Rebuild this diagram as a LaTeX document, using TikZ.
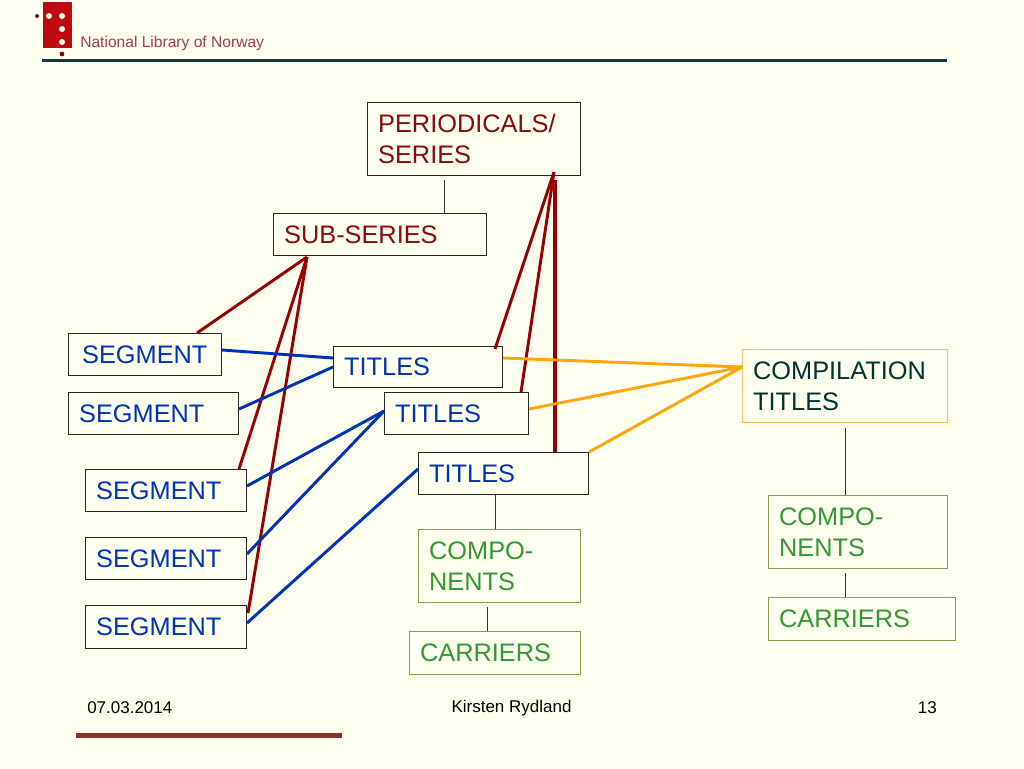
\documentclass[tikz,border=0pt]{standalone}
\usepackage{fontspec}
\setmainfont{Liberation Sans}
\usetikzlibrary{calc}
\definecolor{bgc}{HTML}{FFFFF0}
\definecolor{dred}{HTML}{990000}
\definecolor{tred}{HTML}{8B0A0A}
\definecolor{bl}{HTML}{0033BB}
\definecolor{gr}{HTML}{339933}
\definecolor{gbord}{HTML}{8C9A50}
\definecolor{obord}{HTML}{F5BE66}
\definecolor{orng}{HTML}{FFA511}
\definecolor{teal0}{HTML}{003333}
\definecolor{rule0}{HTML}{0F3B45}
\definecolor{foot}{HTML}{992D22}
\definecolor{logo}{HTML}{BE0A0F}
\definecolor{logot}{HTML}{A04048}
\tikzset{
  x=0.75pt,y=-0.75pt,
  boxbase/.style={draw=#1,line width=0.75pt,rectangle,anchor=north west,inner ysep=0pt,inner xsep=8pt,align=left,
    font=\fontsize{19}{23.25}\selectfont},
  boxbase/.default=black!85,
  rd/.style={draw=dred,line width=2.2pt},
  rdv/.style={draw=dred,line width=2.8pt},
  bu/.style={draw=bl,line width=2.2pt},
  og/.style={draw=orng,line width=2.2pt},
  thin0/.style={draw=black!80,line width=0.7pt},
  foottext/.style={font=\fontsize{12.75}{15}\selectfont,text=black,inner sep=0pt},
}
\newcommand{\pbox}[7]{%
  \pgfmathsetmacro{\tw}{(#4-#2-1)*0.75-16}%
  \pgfmathsetmacro{\mh}{(#5-#3)*0.75}%
  \node[boxbase=#6,text width=\tw pt,minimum height=\mh pt] (#1) at (#2,#3) {#7};}
\begin{document}
\begin{tikzpicture}
\useasboundingbox[fill=bgc] (0,0) rectangle (1024,768);
% header
\fill[logo] (43,2) rectangle (72,48);
\foreach \p/\q in {49/16,62/16,62/29,62/42}{\fill[bgc] (\p,\q) circle (3);}
\fill[tred] (37,16) circle (2);
\fill[tred] (62,54) circle (2.4);
\node[anchor=west,inner sep=0pt,text=logot,font=\fontsize{11.7}{14}\selectfont] (logotext) at (80,43) {National Library of Norway};
\fill[rule0] (42,59) rectangle (947,62);
% boxes
\pbox{per}{367}{102}{581}{175}{black!85}{\textcolor{tred}{PERIODICALS/\\SERIES}}
\pbox{sub}{273}{213}{487}{255}{black!85}{\textcolor{tred}{SUB-SERIES}}
\pbox{sega}{68}{333}{222}{375}{black!85}{\textcolor{bl}{\hspace*{2.25pt}SEGMENT}}
\pbox{segb}{68}{392}{239}{434}{black!85}{\textcolor{bl}{SEGMENT}}
\pbox{segc}{85}{469}{247}{511}{black!85}{\textcolor{bl}{SEGMENT}}
\pbox{segd}{85}{537}{247}{579}{black!85}{\textcolor{bl}{SEGMENT}}
\pbox{sege}{85}{605}{247}{648}{black!85}{\textcolor{bl}{SEGMENT}}
\pbox{tita}{333}{346}{503}{387}{black!85}{\textcolor{bl}{TITLES}}
\pbox{titb}{384}{392}{529}{434}{black!85}{\textcolor{bl}{TITLES}}
\pbox{titc}{418}{452}{589}{494}{black!85}{\textcolor{bl}{TITLES}}
\pbox{coma}{418}{529}{581}{602}{gbord}{\textcolor{gr}{COMPO-\\NENTS}}
\pbox{cara}{409}{631}{581}{674}{gbord}{\textcolor{gr}{CARRIERS}}
\pbox{cpl}{742}{349}{948}{422}{obord}{\textcolor{teal0}{COMPILATION\\TITLES}}
\pbox{comb}{768}{495}{948}{568}{gbord}{\textcolor{gr}{COMPO-\\NENTS}}
\pbox{carb}{768}{597}{956}{640}{gbord}{\textcolor{gr}{CARRIERS}}
% thin connectors
\path[thin0] ($(per.south west)+(77,4)$) -- ($(sub.north west)+(171,0)$);
\path[thin0] ($(titc.south west)+(77,0)$) -- ($(coma.north west)+(77,0)$);
\path[thin0] ($(coma.south west)+(69,4)$) -- ($(cara.north west)+(78,0)$);
\path[thin0] ($(cpl.south west)+(103,5)$) -- ($(comb.north west)+(77,0)$);
\path[thin0] ($(comb.south west)+(77,4)$) -- ($(carb.north west)+(77,0)$);
% red
\coordinate (subhub) at ($(sub.south west)+(34,1)$);
\coordinate (perhub) at ($(per.south west)+(187,-4)$);
\path[rd] (subhub) -- ($(sega.north west)+(129,0)$);
\path[rd] (subhub) -- ($(segc.north west)+(154,0)$);
\path[rd] (subhub) -- ($(sege.north east)+(1,8)$);
\path[rd] (perhub) -- ($(tita.north west)+(162,3)$);
\path[rd] (perhub) -- ($(titb.north west)+(137,0)$);
\path[rdv] ($(per.south west)+(188,4)$) -- ($(titc.north west)+(137,0)$);
% blue
\path[bu] ($(sega.north east)+(0,17)$) -- ($(tita.north west)+(0,12)$);
\path[bu] ($(segb.north east)+(0,17)$) -- ($(tita.north west)+(0,21)$);
\path[bu] ($(segc.north east)+(0,17)$) -- ($(titb.north west)+(0,19)$);
\path[bu] ($(segd.north east)+(0,17)$) -- ($(titb.north west)+(0,19)$);
\path[bu] ($(sege.north east)+(0,18)$) -- ($(titc.north west)+(0,17)$);
% orange
\coordinate (cplhub) at ($(cpl.north west)+(0,18)$);
\path[og] ($(tita.north east)+(0,12)$) -- (cplhub);
\path[og] ($(titb.north east)+(0,17)$) -- (cplhub);
\path[og] (titc.north east) -- (cplhub);
% footer
\node[foottext,anchor=west] (fdate) at (87,708) {07.03.2014};
\node[foottext,anchor=center] (fname) at (511.5,708) {Kirsten Rydland};
\node[foottext,anchor=east] (fnum) at (937,708) {13};
\fill[foot] (76,733) rectangle (342,738);
\end{tikzpicture}
\end{document}
